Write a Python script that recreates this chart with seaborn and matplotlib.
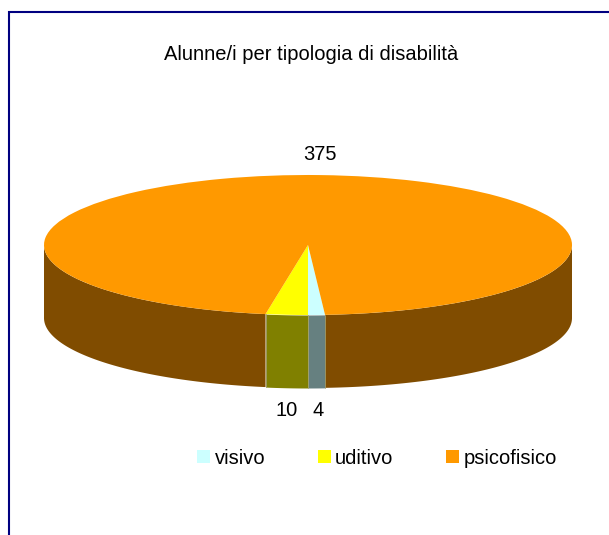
"""Alunne/i per tipologia di disabilita: 3D-looking pie chart."""

import matplotlib

matplotlib.use("Agg")

import matplotlib.pyplot as plt
import numpy as np
import seaborn as sns
from matplotlib.patches import Patch, Rectangle

TITLE = "Alunne/i per tipologia di disabilità"
CATEGORIES = ["visivo", "uditivo", "psicofisico"]
VALUES = [4, 10, 375]
TOP_COLORS = ["#CCFFFF", "#FFFF00", "#FF9900"]
SIDE_COLORS = ["#668080", "#808000", "#804C00"]

W, H = 609, 535
CX, CY, RX, RY, DEPTH = 308, 245, 264, 70, 73
FONT_SIZE = 14.5

sns.set_theme(style="white")
plt.rcParams["font.family"] = ["Liberation Sans", "DejaVu Sans"]
plt.rcParams["text.color"] = "black"

fig = plt.figure(figsize=(W / 100, H / 100), dpi=100, facecolor="white")
ax = fig.add_axes([0, 0, 1, 1])

start = 270 + VALUES[0] / sum(VALUES) * 360
wedges, _ = ax.pie(
    VALUES,
    colors=TOP_COLORS,
    startangle=start,
    counterclock=False,
    radius=1,
    wedgeprops={"linewidth": 0, "zorder": 3},
)
ax.set_aspect("auto")
ax.set_xlim(-CX / RX, (W - CX) / RX)
ax.set_ylim((CY - H) / RY, CY / RY)
ax.set_axis_off()

depth = DEPTH / RY
for wedge, side in zip(wedges, SIDE_COLORS):
    theta = np.union1d(np.linspace(wedge.theta1, wedge.theta2, 400), [0, 180])
    theta = theta[(theta >= wedge.theta1) & (theta <= wedge.theta2)]
    rad = np.deg2rad(theta)
    ax.fill_between(
        np.cos(rad),
        np.sin(rad) - depth,
        np.sin(rad),
        where=np.sin(rad) <= 1e-9,
        color=side,
        linewidth=0,
        zorder=1,
    )

# light seams where the small slices meet on the rim
edges = np.deg2rad([wedges[0].theta2, wedges[0].theta1, wedges[1].theta1])
for a in edges:
    ax.plot(
        [np.cos(a), np.cos(a)],
        [np.sin(a), np.sin(a) - depth],
        color="#A0A070",
        linewidth=0.6,
        zorder=2,
    )


def px(x, y):
    return x / W, 1 - y / H


fig.text(*px(311.5, 55), TITLE, fontsize=FONT_SIZE, ha="center", va="center")
fig.text(*px(320, 155), f"{VALUES[2]}", fontsize=FONT_SIZE, ha="center", va="center")
fig.text(*px(287, 410), f"{VALUES[1]}", fontsize=FONT_SIZE, ha="center", va="center")
fig.text(*px(318, 410), f"{VALUES[0]}", fontsize=FONT_SIZE, ha="center", va="center")

handles = [Patch(facecolor=c, linewidth=0) for c in TOP_COLORS]
fig.legend(
    handles,
    CATEGORIES,
    ncol=3,
    loc="center left",
    bbox_to_anchor=px(197, 458),
    borderaxespad=0,
    borderpad=0,
    frameon=False,
    fontsize=FONT_SIZE,
    handlelength=0.65,
    handleheight=0.65,
    handletextpad=0.22,
    columnspacing=2.6,
    labelcolor="black",
)

# the navy frame runs off the right and bottom edges of the picture
fig.add_artist(
    Rectangle(
        px(8.5, H + 11.5),
        1,
        1,
        transform=fig.transFigure,
        fill=False,
        edgecolor="#000080",
        linewidth=1.5,
    )
)

fig.savefig("out.png", dpi=100)
